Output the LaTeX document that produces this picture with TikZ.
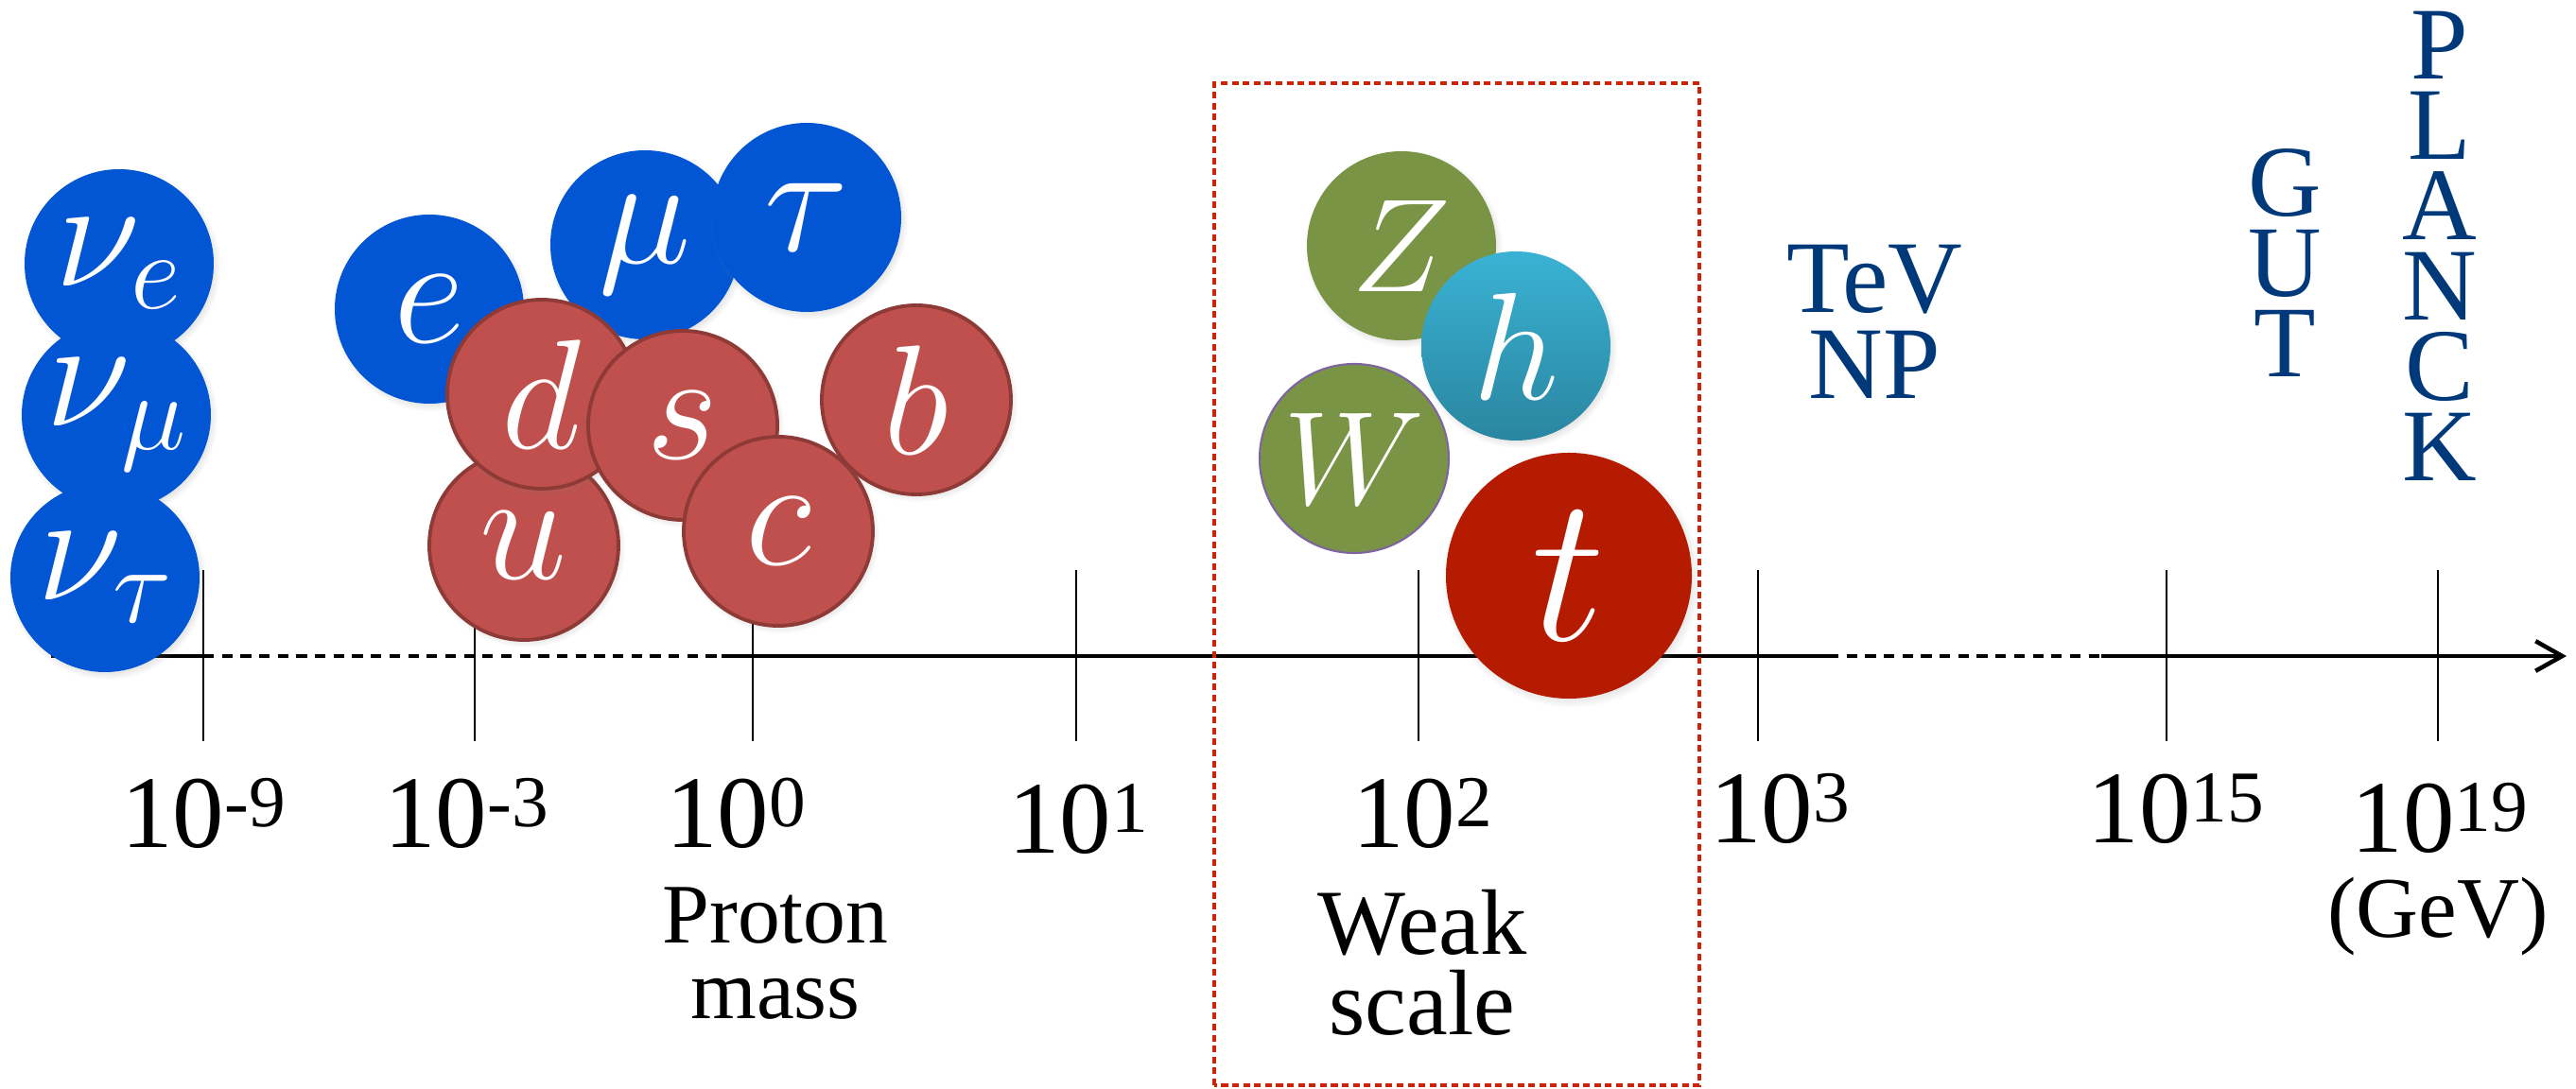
\documentclass[tikz,border=0pt]{standalone}
\usepackage{fix-cm}
\usepackage{fontspec}
\setmainfont{Liberation Serif}
\definecolor{leptonBlue}{RGB}{2,86,212}
\definecolor{quarkRed}{RGB}{192,80,77}
\definecolor{quarkEdge}{RGB}{142,58,55}
\definecolor{bosonGreen}{RGB}{121,148,68}
\definecolor{wEdge}{RGB}{128,100,162}
\definecolor{higgsTop}{RGB}{58,178,212}
\definecolor{higgsBot}{RGB}{42,134,160}
\definecolor{topRed}{RGB}{180,27,0}
\definecolor{scaleBlue}{RGB}{0,57,122}
\definecolor{boxRed}{RGB}{204,36,10}
\usetikzlibrary{arrows.meta,shadows}
\newcommand{\tenpow}[1]{10\raisebox{6.5pt}{\fontsize{22}{22}\selectfont #1}}

\begin{document}
\begin{tikzpicture}[
  particle/.style={circle, minimum size=2cm, inner sep=0pt, text=white,
                   font=\fontsize{47}{47}\selectfont},
  glow/.style={circular drop shadow={shadow xshift=0.02cm, shadow yshift=-0.03cm,
               shadow scale=1.05, opacity=0.35}},
  lepton/.style={particle, fill=leptonBlue, glow},
  quark/.style={particle, fill=quarkRed, draw=quarkEdge, line width=1.1pt, glow},
  boson/.style={particle, fill=bosonGreen, font=\fontsize{40}{40}\selectfont},
  power/.style={anchor=base, inner sep=0pt, font=\fontsize{31}{31}\selectfont},
  note/.style={anchor=base, inner sep=0pt, align=center},
  era/.style={anchor=base, inner sep=0pt, align=center, text=scaleBlue},
  tickline/.style={line width=0.6pt},
  axisline/.style={line width=1.3pt},
  gapline/.style={axisline, dash pattern=on 3.2pt off 2.4pt},
  weakbox/.style={boxRed, line width=1pt, dash pattern=on 2pt off 1.3pt}
]
  \useasboundingbox (0,0) rectangle (27.24,11.52);

  % energy axis
  \foreach \x in {2.15,5.02,7.96,11.38,15.00,18.59,22.91,25.78}
    \draw[tickline] (\x,3.68) -- (\x,5.49);
  \coordinate (a0) at (0.54,4.58);
  \coordinate (a1) at (2.15,4.58);
  \coordinate (a2) at (7.63,4.58);
  \coordinate (a3) at (19.33,4.58);
  \coordinate (a4) at (22.22,4.58);
  \coordinate (a5) at (27.14,4.58);
  \draw[axisline] (a0) -- (a1);
  \draw[gapline]  (a1) -- (a2);
  \draw[axisline] (a2) -- (a3);
  \draw[gapline]  (a3) -- (a4);
  \draw[axisline, -{Straight Barb[length=8pt,width=9pt]}] (a4) -- (a5);

  % leptons
  \node[lepton] (nue)   at (1.26,8.73) {$\nu_e$};
  \node[lepton] (numu)  at (1.23,7.13) {$\nu_\mu$};
  \node[lepton] (nutau) at (1.11,5.41) {$\nu_\tau$};
  \node[lepton] (el)    at (4.54,8.25) {$e$};
  \node[lepton] (mu)    at (6.82,8.93) {$\mu$};
  \node[lepton] (tau)   at (8.53,9.22) {$\tau$};

  % quarks
  \node[quark] (up)      at (5.54,5.75) {$u$};
  \node[quark] (down)    at (5.73,7.35) {$d$};
  \node[quark] (strange) at (7.22,7.02) {$s$};
  \node[quark] (charm)   at (8.23,5.90) {$c$};
  \node[quark] (bottom)  at (9.69,7.29) {$b$};

  % bosons and top
  \node[boson, glow] (zb) at (14.82,8.92) {$Z$};
  \node[particle, top color=higgsTop, bottom color=higgsBot, font=\fontsize{46}{46}\selectfont,
        glow] (higgs) at (16.03,7.86) {$h$};
  \node[boson, draw=wEdge, line width=0.6pt] (wb) at (14.32,6.67) {$W$};
  \node[particle, fill=topRed, minimum size=2.6cm, font=\fontsize{63}{63}\selectfont,
        glow] (top) at (16.59,5.43) {$t$};

  % powers of ten
  \node[power] (p9)  at (2.15,2.55)  {\tenpow{-9}};
  \node[power] (p3m) at (4.93,2.55)  {\tenpow{-3}};
  \node[power] (p0)  at (7.78,2.55)  {\tenpow{0}};
  \node[power] (p1)  at (11.40,2.49) {\tenpow{1}};
  \node[power] (p2)  at (15.04,2.55) {\tenpow{2}};
  \node[power] (p3)  at (18.82,2.60) {\tenpow{3}};
  \node[power] (p15) at (23.01,2.60) {\tenpow{15}};
  \node[power] (p19) at (25.80,2.50) {\tenpow{19}};

  % names under and over the axis (base = last line)
  \node[note, font=\fontsize{25.5}{22.8}\selectfont] (proton) at (8.20,0.74) {Proton\\mass};
  \node[note, font=\fontsize{28}{24.2}\selectfont]   (weak)   at (15.04,0.57) {Weak\\scale};
  \node[note, font=\fontsize{26}{26}\selectfont]     (gev)    at (25.78,1.60) {(GeV)};

  \node[era, font=\fontsize{31}{25.9}\selectfont]   (tev)    at (19.82,7.30) {TeV\\NP};
  \node[era, font=\fontsize{30.5}{24.2}\selectfont] (gut)    at (24.16,7.53) {G\\U\\T};
  \node[era, font=\fontsize{31}{24.2}\selectfont]   (planck) at (25.80,6.43) {P\\L\\A\\N\\C\\K};

  \draw[weakbox] (12.84,0.04) rectangle (17.97,10.64);
\end{tikzpicture}
\end{document}
